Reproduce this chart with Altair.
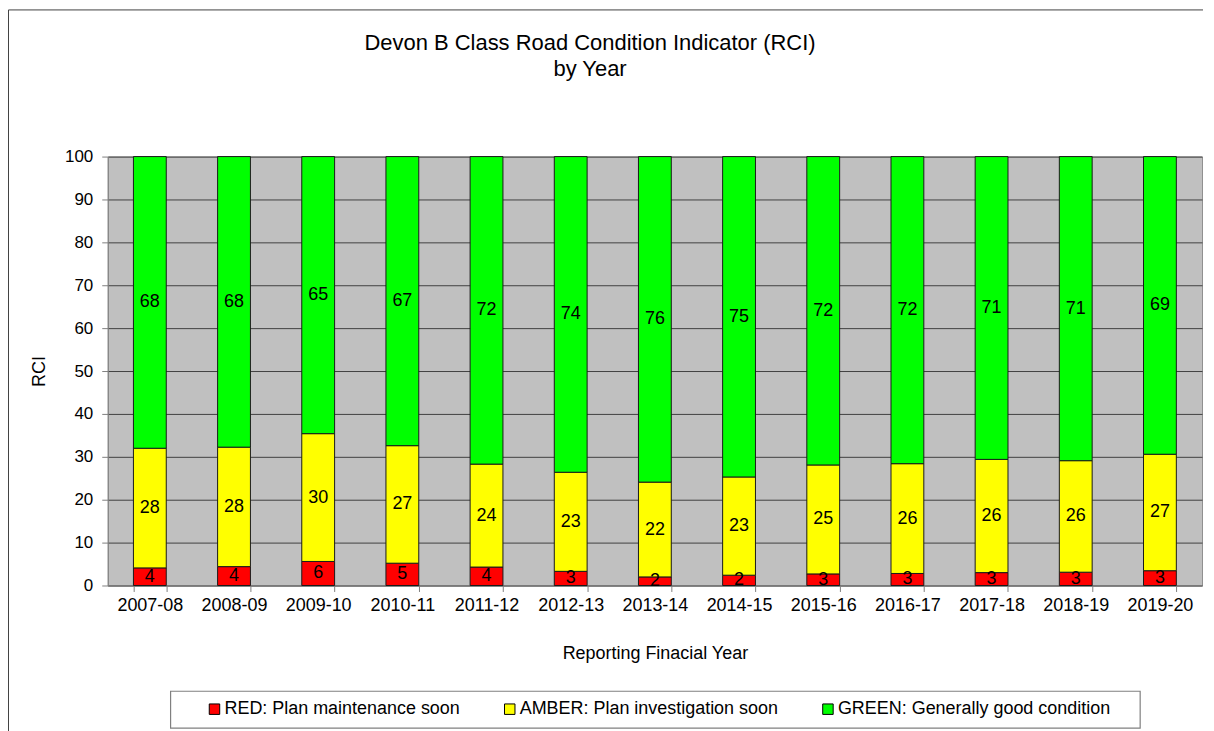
import altair as alt
import pandas as pd

years = ["2007-08", "2008-09", "2009-10", "2010-11", "2011-12", "2012-13", "2013-14",
         "2014-15", "2015-16", "2016-17", "2017-18", "2018-19", "2019-20"]
red = [4.1, 4.4, 5.6, 5.2, 4.3, 3.3, 2.0, 2.4, 2.7, 2.8, 3.0, 3.1, 3.45]
amber = [27.9, 27.85, 29.8, 27.4, 24.0, 23.1, 22.1, 22.9, 25.4, 25.6, 26.4, 26.0, 27.15]
green = [68.0, 67.75, 64.6, 67.4, 71.7, 73.6, 75.9, 74.7, 71.9, 71.6, 70.6, 70.9, 69.4]
categories = ["RED: Plan maintenance soon", "AMBER: Plan investigation soon",
              "GREEN: Generally good condition"]
colors = ["#ff0000", "#ffff00", "#00ff00"]
y_ticks = [0, 10, 20, 30, 40, 50, 60, 70, 80, 90, 100]

rows = []
for i, yr in enumerate(years):
    for k, (cat, vals) in enumerate(zip(categories, [red, amber, green])):
        rows.append({"year": yr, "category": cat, "order": k, "value": vals[i]})
df = pd.DataFrame(rows)

FONT = "Liberation Sans"

base = alt.Chart(df).transform_stack(
    stack="value", groupby=["year"], sort=[alt.SortField("order")], as_=["v0", "v1"]
).transform_calculate(mid="(datum.v0 + datum.v1) / 2")

xscale = alt.Scale(paddingInner=0.61, paddingOuter=0.305)
yscale = alt.Scale(domain=[0, 100], nice=False)

x_enc = alt.X("year:N", sort=years, title="Reporting Finacial Year", scale=xscale,
              axis=alt.Axis(labelAngle=0, tickBand="extent", grid=False, tickSize=6,
                            labelFontSize=18, labelPadding=5, titlePadding=30))
y_axis = alt.Axis(values=y_ticks, grid=True, gridColor="#404040", gridWidth=1,
                  tickSize=6, labelFontSize=17, labelPadding=9, titlePadding=16)

bars = base.mark_bar(stroke="#1a1a1a", strokeWidth=1).encode(
    x=x_enc,
    y=alt.Y("v0:Q", scale=yscale, axis=y_axis, title="RCI"),
    y2="v1:Q",
    color=alt.Color("category:N", scale=alt.Scale(domain=categories, range=colors),
                    legend=alt.Legend(orient="none", legendX=98, legendY=545,
                                      direction="horizontal", title=None,
                                      symbolType="square", symbolSize=110,
                                      symbolStrokeColor="black", symbolStrokeWidth=1,
                                      labelFontSize=18, labelFont=FONT, labelColor="black",
                                      labelLimit=400, columnPadding=40, labelOffset=1,
                                      padding=0)),
)

text = base.mark_text(fontSize=18, font=FONT, color="black", baseline="middle").encode(
    x=alt.X("year:N", sort=years, scale=xscale),
    y=alt.Y("mid:Q", scale=yscale, title="RCI"),
    text=alt.Text("value:Q", format=".0f"),
)

one = pd.DataFrame({"d": [0]})
legend_box = alt.Chart(one).mark_rect(fill="white", stroke="#808080", strokeWidth=1.2).encode(
    x=alt.value(63), x2=alt.value(1035), y=alt.value(536), y2=alt.value(573)
)
frame_left = alt.Chart(one).mark_rule(color="#404040", strokeWidth=1).encode(
    x=alt.value(-99.5), y=alt.value(-147), y2=alt.value(600)
)
frame_top = alt.Chart(one).mark_rule(color="#404040", strokeWidth=1).encode(
    x=alt.value(-99.5), x2=alt.value(1098), y=alt.value(-147)
)

chart = alt.layer(legend_box, frame_left, frame_top, bars, text).properties(
    width=1097, height=430, background="white",
    padding={"left": 0, "top": 0, "right": 2, "bottom": 0},
    title=alt.TitleParams(
        text=["Devon B Class Road Condition Indicator (RCI)", "by Year"],
        fontSize=22, font=FONT, fontWeight="normal", color="black",
        anchor="middle", frame="group", dx=-65, offset=-72, lineHeight=26),
).configure_view(fill="#c0c0c0", stroke="#909090").configure_axis(
    labelFont=FONT, titleFont=FONT, labelFontSize=16, titleFontSize=18,
    labelColor="black", titleColor="black", titleFontWeight="normal",
    domainColor="#808080", tickColor="#808080",
)

chart.save("out.html", embed_options={"renderer": "svg", "actions": False})
